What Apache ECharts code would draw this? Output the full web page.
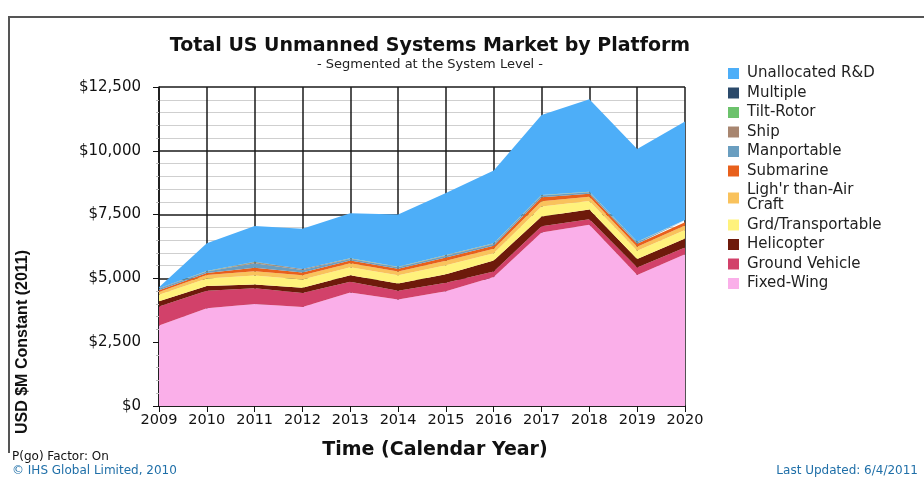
<!DOCTYPE html>
<html><head><meta charset="utf-8">
<script src="https://cdn.jsdelivr.net/npm/echarts@6/dist/echarts.min.js"></script>
<style>html,body{margin:0;padding:0;background:#fff}#c{width:924px;height:480px}</style>
</head><body><div id="c"></div>
<script>
const years = ['2009','2010','2011','2012','2013','2014','2015','2016','2017','2018','2019','2020'];
const yTicks = [0, 2500, 5000, 7500, 10000, 12500];
const fixedWing      = [3150,3830,4000,3880,4450,4170,4500,5050,6800,7100,5130,5950];
const groundVehicle  = [750,690,615,550,420,350,330,220,240,220,300,260];
const helicopter     = [200,180,150,200,250,280,330,430,390,380,330,350];
const grdTransport   = [260,300,350,330,320,320,360,290,390,330,320,340];
const lighterThanAir = [110,130,170,160,150,150,170,170,200,170,160,170];
const submarine      = [70,80,130,110,110,110,130,120,160,120,120,130];
const manportable    = [50,60,180,100,60,55,70,70,70,60,60,70];
const ship           = [14,12,40,25,20,16,19,18,11,10,11,11];
const tiltRotor      = [5,5,12,8,5,5,5,5,5,5,5,5];
const multiple       = [5,5,10,7,5,5,5,5,5,5,5,5];
const unallocatedRD  = [40,1090,1400,1580,1760,2040,2430,2850,3130,3620,3630,3860];

const seriesDefs = [
  ['Fixed-Wing', fixedWing, '#FAAFE9'],
  ['Ground Vehicle', groundVehicle, '#D2416A'],
  ['Helicopter', helicopter, '#6E1A0B'],
  ['Grd/Transportable', grdTransport, '#FFF27C'],
  ["Ligh'r than-Air Craft", lighterThanAir, '#F9C25C'],
  ['Submarine', submarine, '#E8601C'],
  ['Manportable', manportable, '#6A9EC0'],
  ['Ship', ship, '#A88670'],
  ['Tilt-Rotor', tiltRotor, '#6CC26C'],
  ['Multiple', multiple, '#2B4A6B'],
  ['Unallocated R&D', unallocatedRD, '#4DAEF8']
];

const chart = echarts.init(document.getElementById('c'), null, {renderer:'canvas'});
const fmt = v => '$' + v.toLocaleString('en-US');

chart.setOption({
  animation: false,
  backgroundColor: '#fff',
  title: {
    text: 'Total US Unmanned Systems Market by Platform',
    subtext: '- Segmented at the System Level -',
    left: 425, top: 32, textAlign: 'center', itemGap: 2,
    textStyle: {fontFamily: 'DejaVu Sans', fontWeight: 'bold', fontSize: 19, color: '#111'},
    subtextStyle: {fontFamily: 'DejaVu Sans', fontSize: 13, color: '#222'}
  },
  legend: {
    orient: 'vertical', left: 723, top: 61, itemWidth: 11, itemHeight: 11, itemGap: 4.5,
    icon: 'rect',
    data: seriesDefs.map(s => s[0]).reverse(),
    formatter: n => n === "Ligh'r than-Air Craft" ? "Ligh'r than-Air\nCraft" : n,
    textStyle: {fontFamily: 'DejaVu Sans', fontSize: 15, color: '#222', lineHeight: 15, padding: [0,0,0,3]}
  },
  grid: {left: 159, right: 239, top: 87, bottom: 74},
  xAxis: {
    type: 'category', data: years, boundaryGap: false,
    name: 'Time (Calendar Year)', nameLocation: 'middle', nameGap: 35,
    nameTextStyle: {fontFamily: 'DejaVu Sans', fontWeight: 'bold', fontSize: 19, color: '#111', padding: [0,0,0,26]},
    axisLine: {lineStyle: {color: '#111', width: 1.5}},
    axisTick: {show: true, interval: 0, length: 6, lineStyle: {color: '#111'}},
    axisLabel: {interval: 0, hideOverlap: false, fontFamily: 'DejaVu Sans', fontSize: 14.5, color: '#111', margin: 7},
    splitLine: {show: true, interval: 0, lineStyle: {color: '#1a1a1a', width: 1.5}}
  },
  yAxis: {
    type: 'value', min: 0, max: 12500, interval: 2500,
    axisLine: {show: true, lineStyle: {color: '#111', width: 1.5}},
    axisTick: {show: true, length: 6, lineStyle: {color: '#111'}},
    minorTick: {show: true, splitNumber: 5, length: 3, lineStyle: {color: '#bbb'}},
    minorSplitLine: {show: true, lineStyle: {color: '#cfcfcf', width: 1.2}},
    splitLine: {show: true, lineStyle: {color: '#1a1a1a', width: 1.5}},
    axisLabel: {fontFamily: 'DejaVu Sans', fontSize: 15, color: '#111', margin: 18,
      formatter: v => yTicks.includes(v) ? fmt(v) : ''}
  },
  graphic: [
    {type: 'polyline', shape: {points: [[9, 453], [9, 17], [930, 17]]},
     style: {fill: 'none', stroke: '#555', lineWidth: 2}, z: 100, silent: true},
    {type: 'text', x: 23, y: 342, rotation: Math.PI/2,
     style: {text: 'USD $M Constant (2011)', font: 'bold 16px "Liberation Sans"', fill: '#111',
             textAlign: 'center', textVerticalAlign: 'middle'}},
    {type: 'text', x: 12, y: 457,
     style: {text: 'P(go) Factor: On', font: '12px "DejaVu Sans"', fill: '#111', textVerticalAlign: 'middle'}},
    {type: 'text', x: 12, y: 471,
     style: {text: '\u00A9 IHS Global Limited, 2010', font: '12px "DejaVu Sans"', fill: '#1F6FA8', textVerticalAlign: 'middle'}},
    {type: 'text', x: 918, y: 471,
     style: {text: 'Last Updated: 6/4/2011', font: '12px "DejaVu Sans"', fill: '#1F6FA8', textAlign: 'right', textVerticalAlign: 'middle'}}
  ],
  series: seriesDefs.map(([name, data, color]) => ({
    name, type: 'line', stack: 'total', data, color,
    symbol: 'none', showSymbol: false,
    lineStyle: {width: 0, color},
    areaStyle: {color, opacity: 1},
    itemStyle: {color}
  }))
});
</script></body></html>
